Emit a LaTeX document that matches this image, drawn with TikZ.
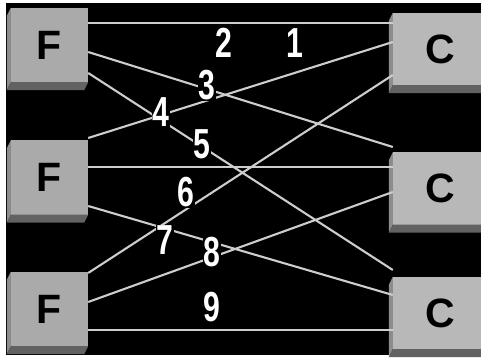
\documentclass[tikz,border=0pt]{standalone}
\usepackage{fontspec}
\setmainfont{Liberation Sans}
\usepackage{graphicx}
\usetikzlibrary{calc}
\definecolor{facegray}{RGB}{170,170,170}
\definecolor{facegrayc}{RGB}{184,184,184}
\definecolor{sidegray}{RGB}{140,140,140}
\definecolor{basegray}{RGB}{98,98,98}
\definecolor{wiregray}{RGB}{205,205,205}
\newcommand{\narrowdigit}[1]{\scalebox{0.72}[1]{#1}}
\tikzset{
  fbox/.style={rectangle,fill=facegray,minimum width=77pt,minimum height=74pt,inner sep=0pt,
    font=\fontsize{41}{41}\selectfont\bfseries},
  cbox/.style={fbox,fill=facegrayc,minimum width=94pt,minimum height=72pt},
  wire/.style={draw=wiregray,line width=2.1pt},
  num/.style={fill=black,text=white,inner sep=1pt,font=\fontsize{42}{42}\selectfont\bfseries}
}

\begin{document}
\begin{tikzpicture}[x=1pt,y=-1pt]
  \useasboundingbox (0,0) rectangle (481,358);
  \clip (0,0) rectangle (481,358);
  \fill[white] (0,0) rectangle (481,358);
  \fill[black] (6,3) rectangle (481,355);

  % F boxes left, C boxes right
  \node[fbox] (f1) at (49.5,45) {F};
  \node[fbox] (f2) at (49.5,177.5) {F};
  \node[fbox] (f3) at (49.5,309) {F};
  \node[cbox] (c1) at (440,49) {C};
  \node[cbox] (c2) at (440,188.5) {C};
  \node[cbox] (c3) at (440,313) {C};

  \foreach \b in {f1,f2,f3,c1,c2,c3} {
    \fill[sidegray] (\b.north west) -- (\b.south west) -- ++(-4,8) -- ($(\b.north west)+(-4,8)$) -- cycle;
    \fill[basegray] (\b.south west) -- (\b.south east) -- ++(-4,8) -- ($(\b.south west)+(-4,8)$) -- cycle;
  }

  \foreach \a/\sa/\b/\sb in {f1/22/c1/26, f1/-7/c2/41.5, f1/-28/c3/43,
                             f2/39.5/c1/7, f2/10.5/c2/21.5, f2/-28.5/c3/18,
                             f3/36/c1/-26, f3/7/c2/-3.5, f3/-21/c3/-17}
    \draw[wire] ([yshift=\sa pt]\a.east) -- ([yshift=\sb pt]\b.west);

  \node[num] (l1) at (295,43) {\narrowdigit{1}};
  \node[num] (l2) at (224,43) {\narrowdigit{2}};
  \node[num] (l3) at (207,85) {\narrowdigit{3}};
  \node[num] (l4) at (161,112) {\narrowdigit{4}};
  \node[num] (l5) at (202,144) {\narrowdigit{5}};
  \node[num] (l6) at (186,192) {\narrowdigit{6}};
  \node[num] (l7) at (165,240) {\narrowdigit{7}};
  \node[num] (l8) at (212,252) {\narrowdigit{8}};
  \node[num] (l9) at (212,307) {\narrowdigit{9}};
\end{tikzpicture}
\end{document}
